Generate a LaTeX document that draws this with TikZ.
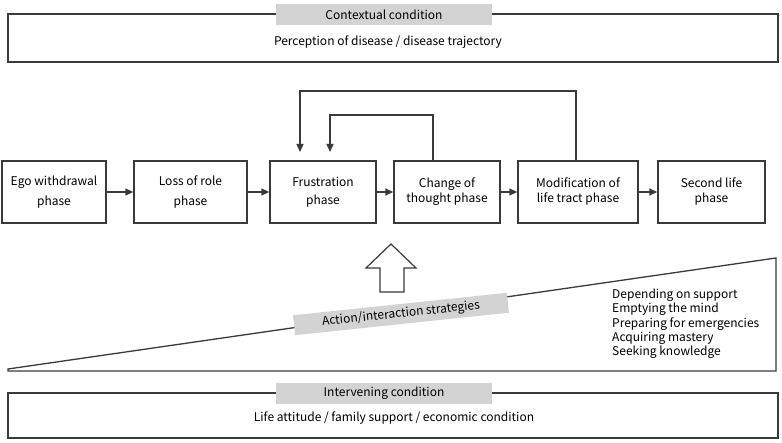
\documentclass[tikz,border=0pt]{standalone}
\usepackage{fontspec}
\setmainfont{Noto Sans CJK KR}
\usetikzlibrary{arrows.meta}
\definecolor{ln}{HTML}{3A3A3A}
\definecolor{lbl}{HTML}{D3D3D3}
\begin{document}
\begin{tikzpicture}[x=1pt,y=-1pt,
 phase/.style={draw=ln, line width=1.3pt, minimum height=62pt, inner sep=0, align=center, font=\fontsize{12}{#1}\selectfont},
 phase/.default=15,
 arr/.style={draw=ln, line width=1.3pt, -{Triangle[length=8pt,width=7pt]}},
 frame/.style={draw=ln, line width=1.3pt},
 tag/.style={fill=lbl, minimum width=216pt, minimum height=21pt, inner sep=0, font=\fontsize{12}{14}\selectfont},
 txt/.style={inner sep=0, font=\fontsize{12}{14}\selectfont}]
\useasboundingbox (0,0) rectangle (782,443);
% top condition
\draw[frame] (8,14) rectangle (778,62);
\node[tag] (ctag) at (384,14.5) {Contextual condition};
\node[txt] (ctxt) at (388,42) {Perception of disease / disease trajectory};
% phases
\node[phase=20, minimum width=104pt] (p1) at (54,192) {Ego withdrawal\\phase};
\node[phase=20, minimum width=113pt] (p2) at (190.5,192) {Loss of role\\phase};
\node[phase=18, minimum width=106pt] (p3) at (323,192) {Frustration\\phase};
\node[phase, minimum width=106pt] (p4) at (447,192) {Change of\\thought phase};
\node[phase, minimum width=120pt] (p5) at (578,192) {Modification of\\life tract phase};
\node[phase, minimum width=107pt] (p6) at (711.5,192) {Second life\\phase};
\draw[arr] (p1) -- (p2);
\draw[arr] (p2) -- (p3);
\draw[arr] (p3) -- (p4);
\draw[arr] (p4) -- (p5);
\draw[arr] (p5) -- (p6);
% feedback loops
\coordinate (o1) at (576,91);
\coordinate (o2) at (300,152);
\coordinate (i1) at (433,115);
\coordinate (i2) at (330,152);
\draw[arr] (p5.north -| o1) |- (o2 |- o1) -- (o2);
\draw[arr] (p4.north -| i1) |- (i2 |- i1) -- (i2);
% hollow arrow
\draw[ln, line width=1.2pt, fill=white] (391,244) -- (416,268) -- (404,268) -- (404,292) -- (380,292) -- (380,268) -- (366,268) -- cycle;
% wedge
\draw[frame] (8,369) -- (776,258) -- (776,371) -- (8,371) -- cycle;
\node[tag, rotate=6, minimum width=215pt, minimum height=20pt] (atag) at (401,314) {\raisebox{-1.5pt}{Action/interaction strategies}};
\node[txt, anchor=west, align=left, font=\fontsize{12}{14.3}\selectfont] (strat) at (612,324) {Depending on support\\Emptying the mind\\Preparing for emergencies\\Acquiring mastery\\Seeking knowledge};
% bottom condition
\draw[frame] (8,393) rectangle (778,438);
\node[tag] (itag) at (384,393.5) {Intervening condition};
\node[txt] (itxt) at (394,418) {Life attitude / family support / economic condition};
\end{tikzpicture}
\end{document}
